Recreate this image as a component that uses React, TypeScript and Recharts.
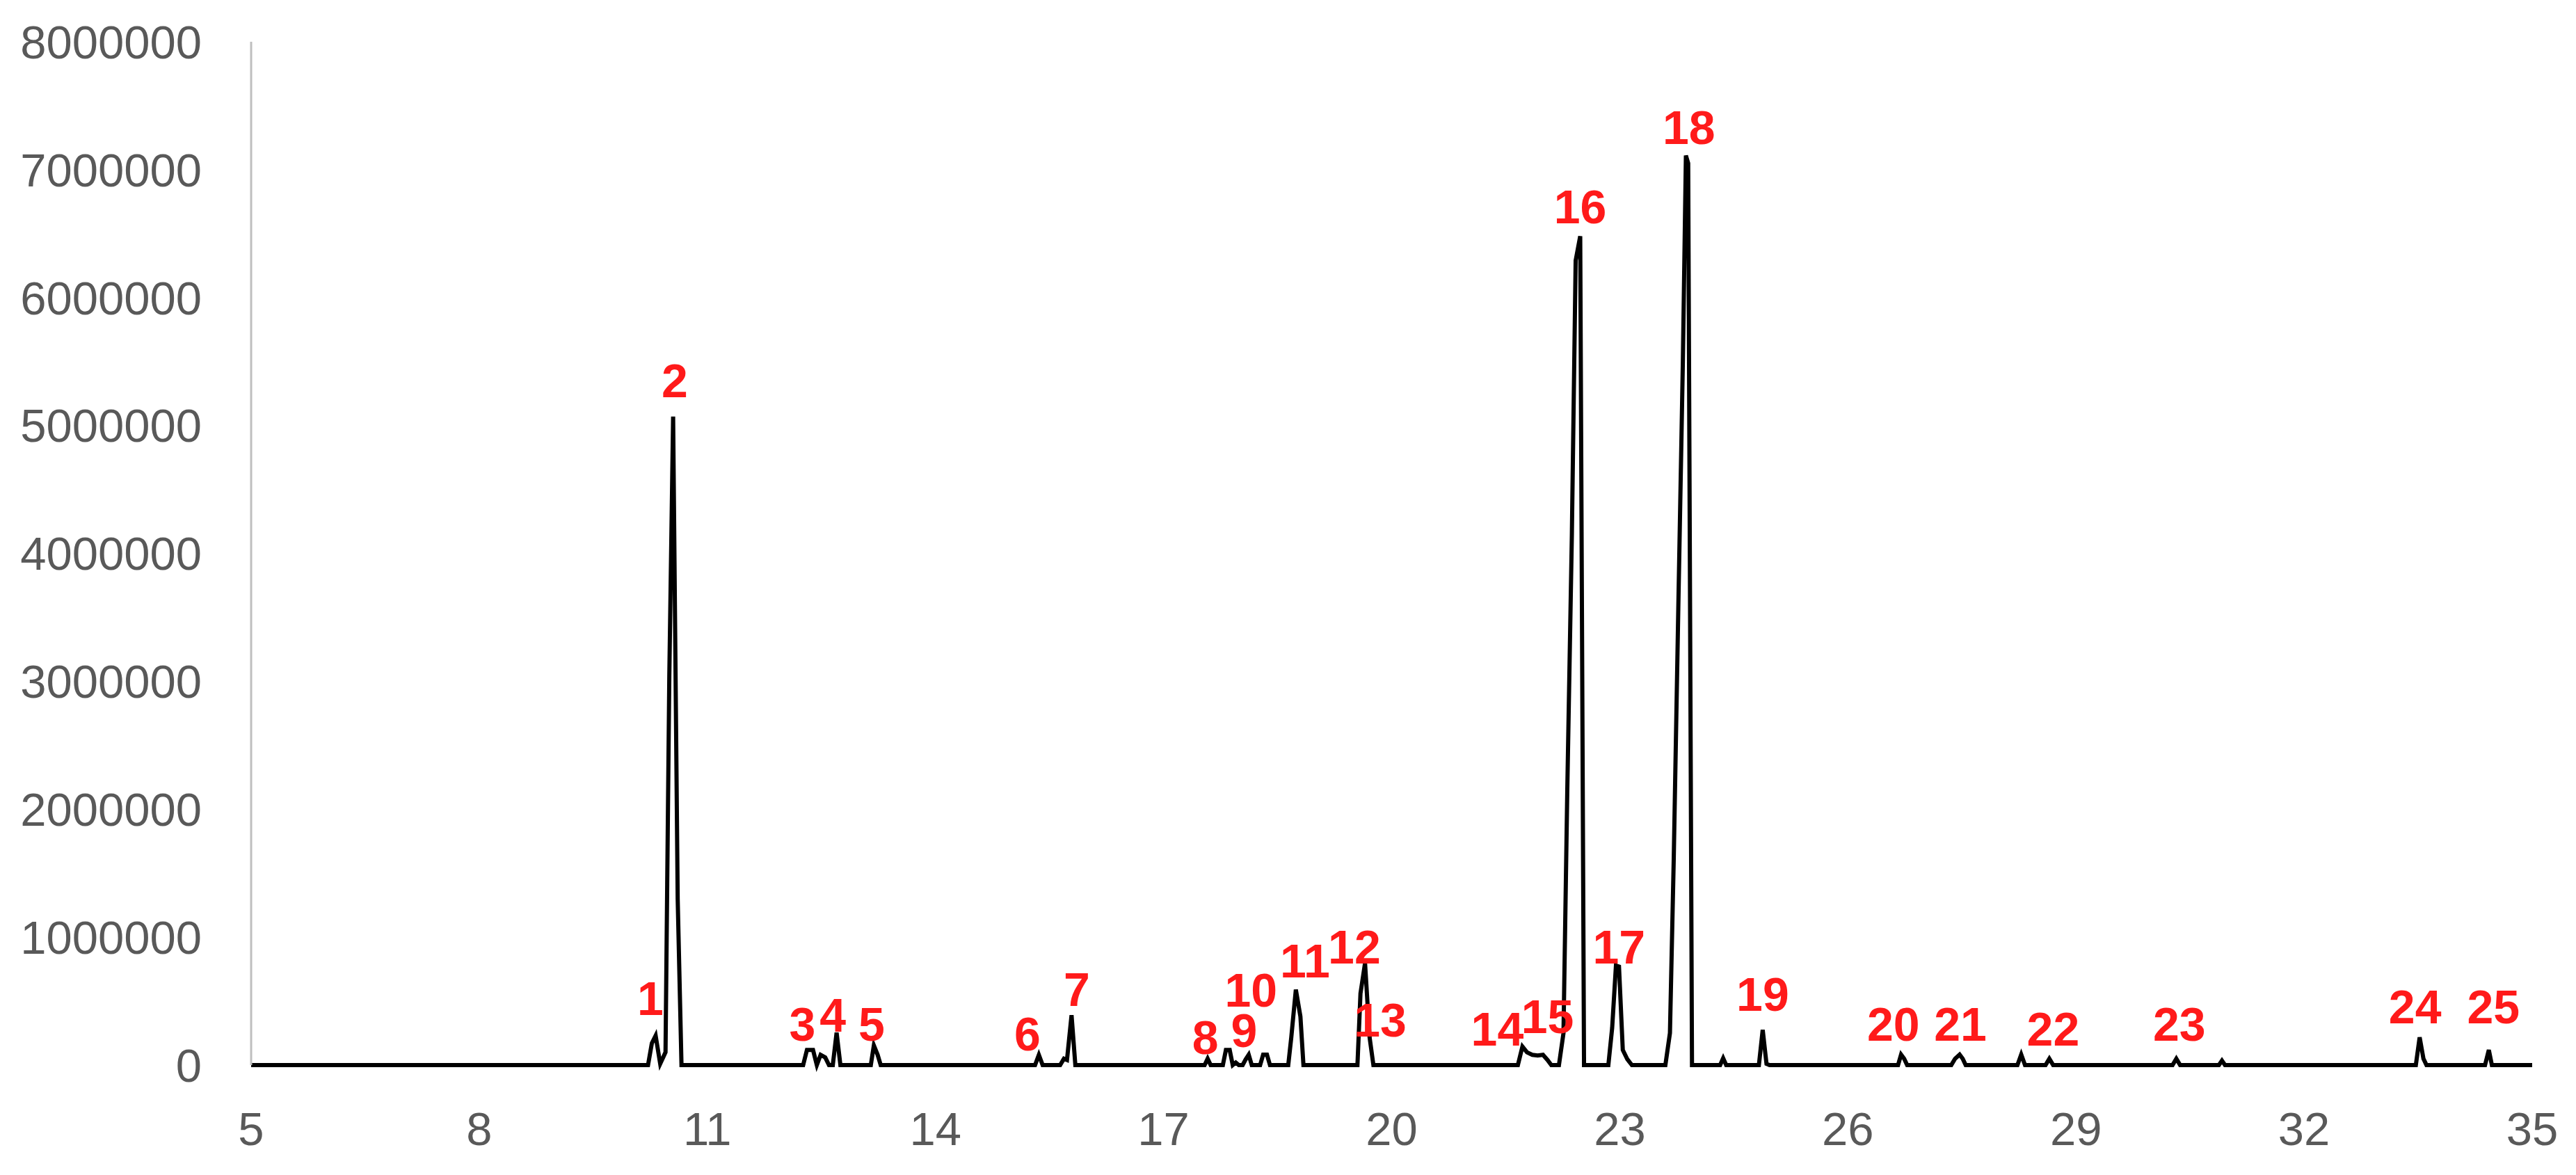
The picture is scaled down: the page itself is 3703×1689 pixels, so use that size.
import React from 'react';
import { ComposedChart, Line, Scatter, XAxis, YAxis } from 'recharts';

// retention time (min) and detector response
const rtMin = [
  5,
  10.22, 10.27, 10.32, 10.38, 10.45, 10.5, 10.55, 10.61, 10.66,
  12.26, 12.31, 12.39, 12.44, 12.49, 12.55, 12.6, 12.65, 12.7, 12.75,
  13.15, 13.19, 13.24, 13.28,
  15.31, 15.36, 15.41,
  15.64, 15.69, 15.73, 15.79, 15.84,
  17.54, 17.58, 17.62,
  17.78, 17.82, 17.87, 17.91, 17.95, 17.99,
  18.04, 18.08, 18.12, 18.16,
  18.27, 18.31, 18.36, 18.4,
  18.64, 18.68, 18.74, 18.8, 18.84,
  19.55, 19.59, 19.65, 19.71, 19.76,
  21.66, 21.72, 21.78, 21.85, 21.92, 21.99, 22.05, 22.1,
  22.2, 22.26, 22.31, 22.37, 22.42, 22.48, 22.53,
  22.85, 22.9, 22.95, 22.99, 23.04, 23.1, 23.16,
  23.6, 23.66, 23.71, 23.77, 23.83, 23.87, 23.9, 23.95,
  24.32, 24.36, 24.4,
  24.83, 24.88, 24.93, 24.97,
  26.66, 26.7, 26.74, 26.78,
  27.36, 27.41, 27.47, 27.51, 27.55,
  28.23, 28.28, 28.33,
  28.6, 28.65, 28.7,
  30.27, 30.32, 30.37,
  30.88, 30.92, 30.96,
  33.47, 33.52, 33.57, 33.61,
  34.38, 34.43, 34.47,
  35,
];

const abundance = [
  0,
  0, 170000, 230000, 10000, 100000, 3050000, 5070000, 1300000, 0,
  0, 118000, 118000, 0, 80000, 60000, 0, 0, 254000, 0,
  0, 154000, 80000, 0,
  0, 80000, 0,
  0, 50000, 40000, 390000, 0,
  0, 50000, 0,
  0, 118000, 118000, 0, 20000, 0,
  0, 45000, 81000, 0,
  0, 81000, 81000, 0,
  0, 217000, 590000, 380000, 0,
  0, 560000, 797000, 217000, 0,
  0, 145000, 100000, 80000, 75000, 80000, 40000, 0,
  0, 250000, 2150000, 4140000, 6290000, 6480000, 0,
  0, 290000, 778000, 770000, 118000, 45000, 0,
  0, 250000, 1610000, 3570000, 5500000, 7110000, 7050000, 0,
  0, 54000, 0,
  0, 275000, 10000, 0,
  0, 82000, 50000, 0,
  0, 50000, 82000, 50000, 0,
  0, 82000, 0,
  0, 50000, 0,
  0, 50000, 0,
  0, 35000, 0,
  0, 217000, 50000, 0,
  0, 118000, 0,
  0,
];

// peak numbers and where their labels sit (in axis units)
const peakNames = [
  '1', '2', '3', '4', '5', '6', '7', '8', '9', '10', '11', '12', '13',
  '14', '15', '16', '17', '18', '19', '20', '21', '22', '23', '24', '25',
];
const labelRt = [
  10.25, 10.57, 12.25, 12.65, 13.16, 15.21, 15.86, 17.55, 18.06, 18.15, 18.86, 19.51, 19.85,
  21.39, 22.05, 22.48, 22.99, 23.91, 24.88, 26.6, 27.48, 28.7, 30.36, 33.46, 34.49,
];
const labelLevel = [
  520000, 5350000, 321000, 390000, 321000, 245000, 592000, 217000, 270000, 585000, 815000, 924000, 353000,
  283000, 380000, 6710000, 924000, 7330000, 554000, 321000, 321000, 283000, 321000, 457000, 457000,
];

const xTicks = [5, 8, 11, 14, 17, 20, 23, 26, 29, 32, 35];
const yTicks = [0, 1000000, 2000000, 3000000, 4000000, 5000000, 6000000, 7000000, 8000000];

const trace = rtMin.map((t, i) => ({ t, v: abundance[i] }));
const labels = peakNames.map((name, i) => ({ t: labelRt[i], v: labelLevel[i], name }));

const tickStyle = { fill: '#595959', fontSize: 67, fontFamily: 'Liberation Sans, Arial, sans-serif' };

const PeakLabel = (props: any) => {
  const { cx, cy, payload } = props;
  return (
    <text
      x={cx}
      y={cy}
      textAnchor="middle"
      dominantBaseline="central"
      fill="#ff1a1a"
      fontSize={68}
      fontWeight="bold"
      fontFamily="Liberation Sans, Arial, sans-serif"
    >
      {payload.name}
    </text>
  );
};

export default function App() {
  return (
    <ComposedChart
      width={3687}
      height={1673}
      margin={{ top: 52, right: 55, bottom: 0, left: 0 }}
    >
      <XAxis
        type="number"
        dataKey="t"
        domain={[5, 35]}
        ticks={xTicks}
        tickLine={false}
        tickMargin={61}
        height={150}
        axisLine={false}
        tick={tickStyle}
      />
      <YAxis
        type="number"
        dataKey="v"
        domain={[0, 8000000]}
        ticks={yTicks}
        tickLine={false}
        tickMargin={65}
        width={353}
        axisLine={{ stroke: '#bfbfbf', strokeWidth: 3 }}
        tick={tickStyle}
      />
      <Line
        data={trace}
        dataKey="v"
        type="linear"
        stroke="#000000"
        strokeWidth={6}
        dot={false}
        activeDot={false}
        isAnimationActive={false}
      />
      <Scatter data={labels} dataKey="v" shape={PeakLabel} isAnimationActive={false} />
    </ComposedChart>
  );
}
